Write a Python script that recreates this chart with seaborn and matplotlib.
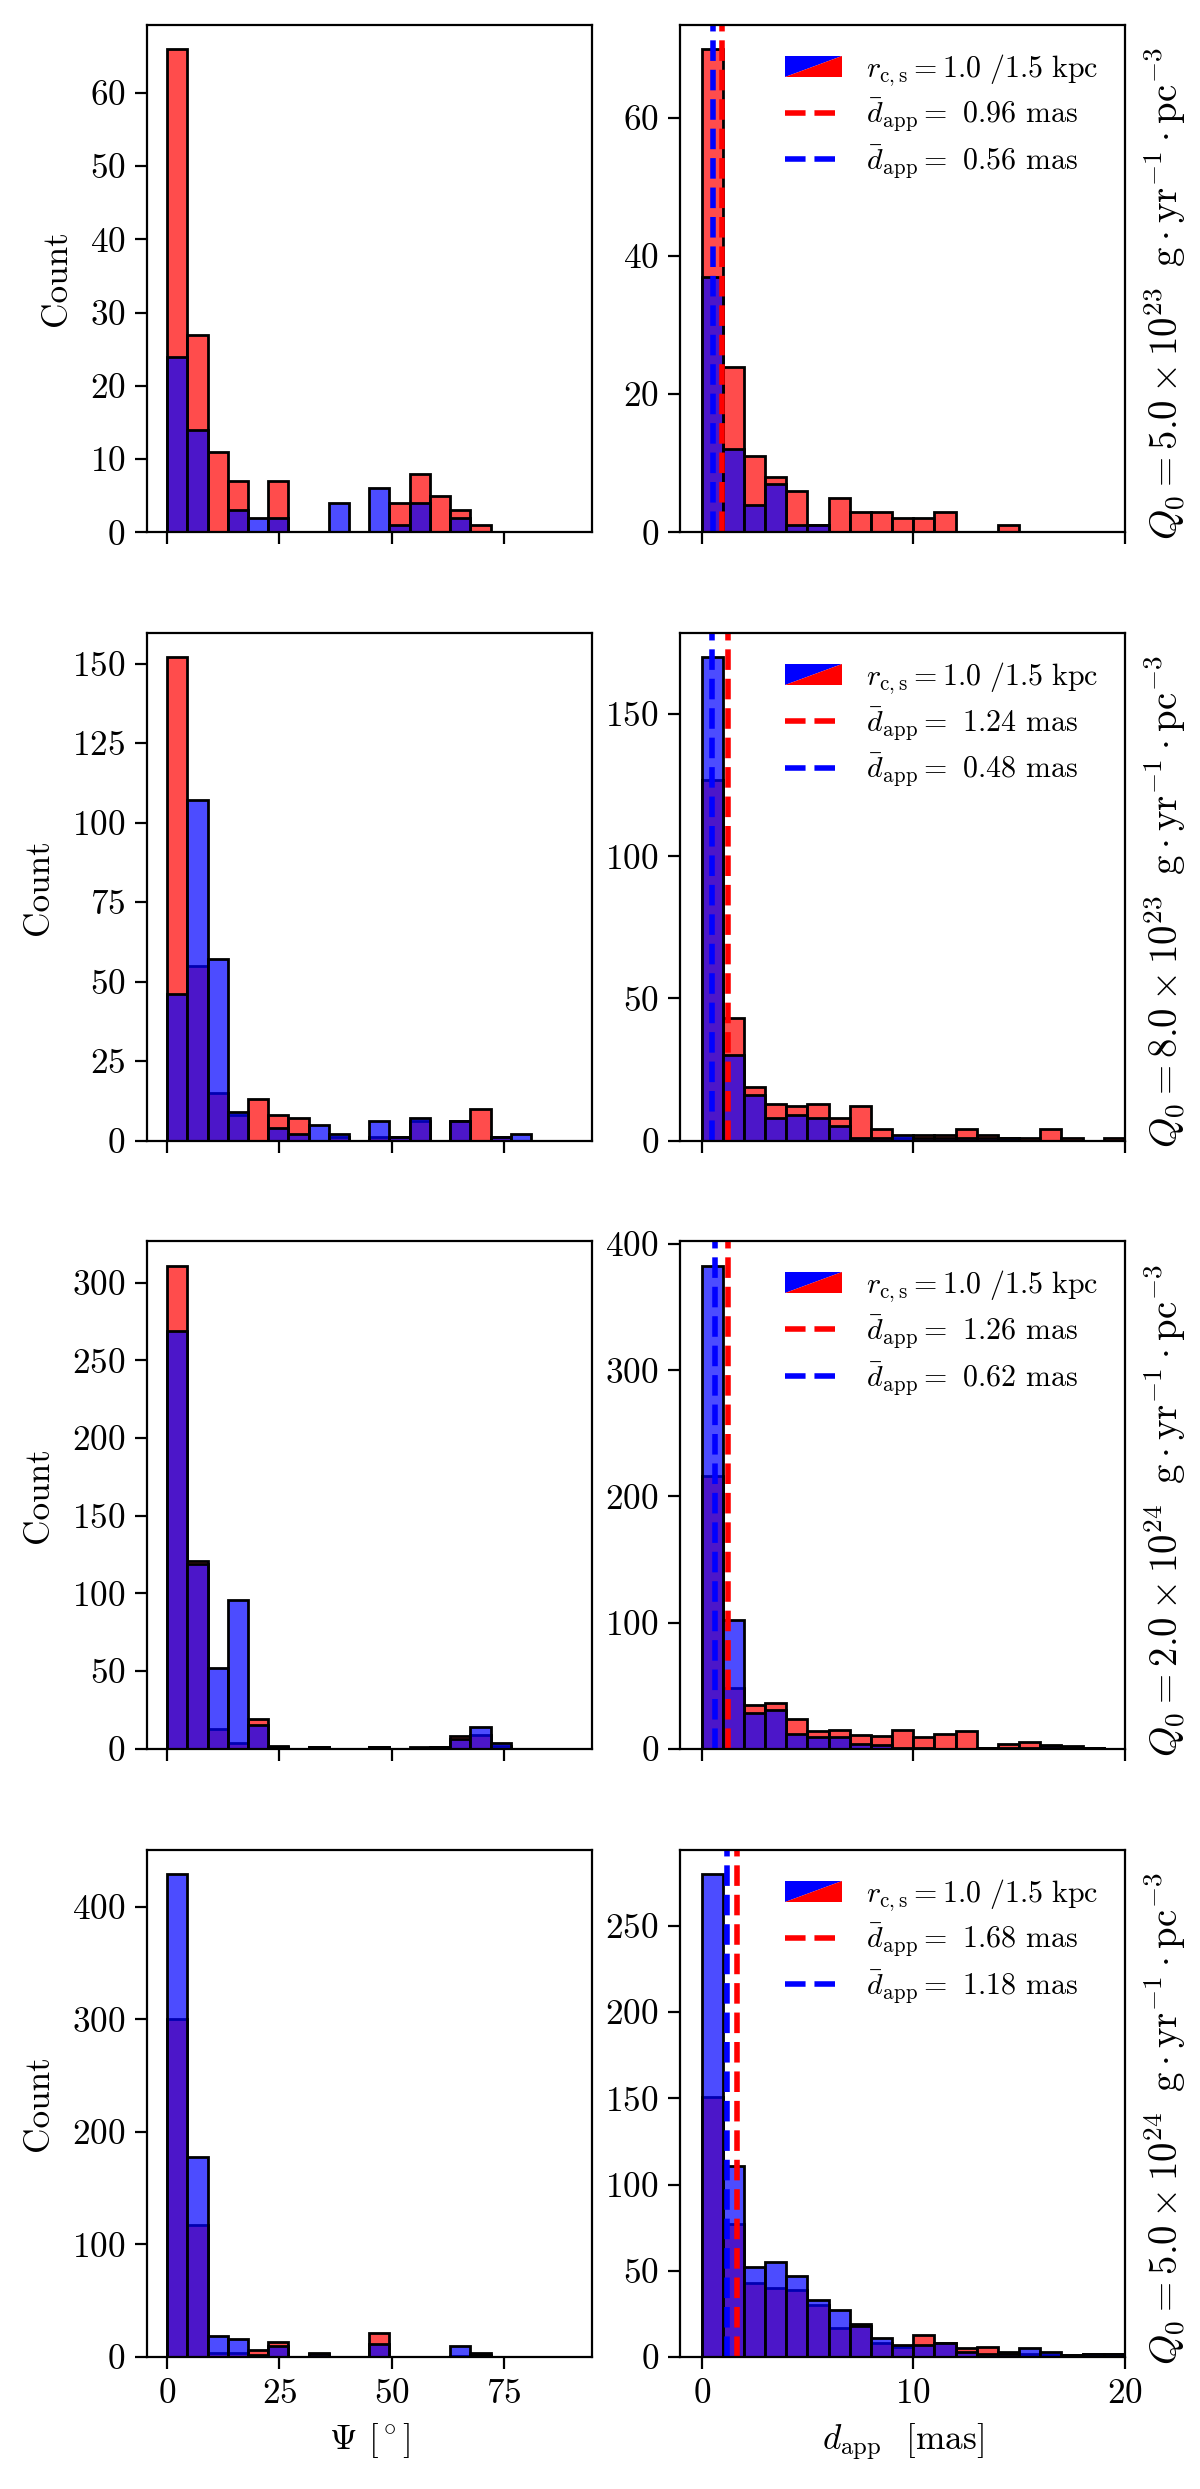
import numpy as np
import pandas as pd
import matplotlib
matplotlib.use("Agg")
import matplotlib.pyplot as plt
from matplotlib.patches import Polygon
from matplotlib.legend_handler import HandlerBase
from matplotlib.lines import Line2D
import seaborn as sns

plt.rcParams["font.family"] = "serif"
plt.rcParams["font.serif"] = ["cmr10"]
plt.rcParams["mathtext.fontset"] = "cm"
plt.rcParams["axes.formatter.use_mathtext"] = True
plt.rcParams["axes.unicode_minus"] = False

# ---------------- data ----------------
psi_edges = [4.5 * k for k in range(21)]   # 20 bins, width 4.5 deg, 0..90
dapp_edges = [1.0 * k for k in range(21)]  # 20 bins, width 1 mas, 0..20

q_labels = [
    r"$Q_0 = 5.0 \times 10^{23}\;\; \mathrm{g \cdot yr^{-1} \cdot pc^{-3}}$",
    r"$Q_0 = 8.0 \times 10^{23}\;\; \mathrm{g \cdot yr^{-1} \cdot pc^{-3}}$",
    r"$Q_0 = 2.0 \times 10^{24}\;\; \mathrm{g \cdot yr^{-1} \cdot pc^{-3}}$",
    r"$Q_0 = 5.0 \times 10^{24}\;\; \mathrm{g \cdot yr^{-1} \cdot pc^{-3}}$",
]

# Psi histograms (red: r_c,s = 1.5 kpc, blue: r_c,s = 1.0 kpc)
psi_red_1 = [66, 27, 11, 7, 0, 7, 0, 0, 0, 0, 0, 4, 8, 5, 3, 1, 0, 0, 0, 0]
psi_blue_1 = [24, 14, 0, 3, 2, 2, 0, 0, 4, 0, 6, 1, 4, 0, 2, 0, 0, 0, 0, 0]
psi_red_2 = [152, 55, 15, 8, 13, 8, 7, 0, 1, 0, 1, 1, 6, 0, 6, 10, 1, 0, 0, 0]
psi_blue_2 = [46, 107, 57, 9, 0, 4, 2, 5, 2, 0, 6, 1, 7, 0, 6, 0, 1, 2, 0, 0]
psi_red_3 = [311, 121, 13, 4, 19, 2, 0, 1, 0, 0, 1, 0, 1, 1, 8, 9, 2, 0, 0, 0]
psi_blue_3 = [269, 119, 52, 96, 15, 1, 0, 1, 0, 0, 1, 0, 0, 1, 6, 14, 4, 0, 0, 0]
psi_red_4 = [300, 117, 4, 4, 6, 13, 0, 4, 0, 0, 21, 0, 0, 0, 1, 4, 0, 0, 0, 0]
psi_blue_4 = [429, 178, 19, 16, 2, 10, 0, 3, 0, 0, 12, 0, 0, 0, 10, 2, 0, 0, 0, 0]

# d_app histograms
dapp_red_1 = [70, 24, 11, 8, 6, 1, 5, 3, 3, 2, 2, 3, 0, 0, 1, 0, 0, 0, 0, 0]
dapp_blue_1 = [37, 12, 4, 7, 1, 1, 0, 0, 0, 0, 0, 0, 0, 0, 0, 0, 0, 0, 0, 0]
dapp_red_2 = [127, 43, 19, 13, 12, 13, 8, 12, 4, 1, 2, 2, 4, 2, 1, 1, 4, 1, 0, 1]
dapp_blue_2 = [170, 30, 16, 8, 9, 8, 5, 1, 1, 2, 1, 1, 1, 1, 1, 0, 0, 0, 0, 0]
dapp_red_3 = [216, 48, 35, 36, 24, 14, 15, 11, 10, 15, 9, 12, 14, 1, 4, 5, 3, 2, 1, 0]
dapp_blue_3 = [383, 102, 28, 31, 12, 9, 9, 4, 3, 1, 1, 0, 0, 1, 1, 1, 2, 1, 1, 0]
dapp_red_4 = [151, 77, 43, 40, 39, 30, 17, 19, 8, 6, 13, 8, 5, 6, 3, 2, 1, 1, 2, 2]
dapp_blue_4 = [280, 111, 52, 55, 47, 33, 27, 18, 11, 7, 7, 8, 3, 2, 2, 5, 3, 1, 2, 2]

mean_red = [0.96, 1.24, 1.26, 1.68]
mean_blue = [0.56, 0.48, 0.62, 1.18]

psi_red = [psi_red_1, psi_red_2, psi_red_3, psi_red_4]
psi_blue = [psi_blue_1, psi_blue_2, psi_blue_3, psi_blue_4]
dapp_red = [dapp_red_1, dapp_red_2, dapp_red_3, dapp_red_4]
dapp_blue = [dapp_blue_1, dapp_blue_2, dapp_blue_3, dapp_blue_4]


class SplitHandle:
    pass


class HandlerSplit(HandlerBase):
    def create_artists(self, legend, orig_handle, xdescent, ydescent,
                       width, height, fontsize, trans):
        x0, y0 = -xdescent, -ydescent
        up = Polygon([[x0, y0], [x0, y0 + height], [x0 + width, y0 + height]],
                     closed=True, facecolor="blue", edgecolor="none", transform=trans)
        lo = Polygon([[x0, y0], [x0 + width, y0], [x0 + width, y0 + height]],
                     closed=True, facecolor="red", edgecolor="none", transform=trans)
        return [up, lo]


FS = 12.7
fig, axes = plt.subplots(4, 2, figsize=(6, 12.445), dpi=200, sharex="col")
fig.subplots_adjust(left=0.1225, right=0.9375, top=0.99, bottom=0.053,
                    wspace=0.2, hspace=0.199)

hist_kw = dict(alpha=0.7, edgecolor="black", linewidth=1.0)


def draw_hist(ax, counts, edges, color):
    centers = [0.5 * (a + b) for a, b in zip(edges[:-1], edges[1:])]
    df = pd.DataFrame({"x": centers, "w": [float(c) for c in counts]})
    sns.histplot(data=df, x="x", weights="w", bins=list(edges), color=color, ax=ax, **hist_kw)


for i in range(4):
    axl, axr = axes[i, 0], axes[i, 1]
    draw_hist(axl, psi_red[i], psi_edges, "red")
    draw_hist(axl, psi_blue[i], psi_edges, "blue")
    axl.set_ylabel("Count", fontsize=FS, labelpad=6)
    axl.set_xticks([0, 25, 50, 75])

    draw_hist(axr, dapp_red[i], dapp_edges, "red")
    draw_hist(axr, dapp_blue[i], dapp_edges, "blue")
    axr.axvline(mean_red[i], color="red", ls="--", lw=2)
    axr.axvline(mean_blue[i], color="blue", ls="--", lw=2)
    axr.set_xlim(-1, 20)
    axr.set_xticks([0, 10, 20])
    axr.yaxis.set_label_position("right")
    axr.set_ylabel(q_labels[i], fontsize=14)
    axr.yaxis.set_label_coords(1.036, 0.47)

    handles = [SplitHandle(),
               Line2D([], [], color="red", ls="--", lw=2),
               Line2D([], [], color="blue", ls="--", lw=2)]
    labels = [r"$r_{\rm c,s} = 1.0\ /1.5\ \mathrm{kpc}$",
              r"$\bar{d}_{\rm app} =$ " + f"{mean_red[i]:.2f} mas",
              r"$\bar{d}_{\rm app} =$ " + f"{mean_blue[i]:.2f} mas"]
    axr.legend(handles, labels, handler_map={SplitHandle: HandlerSplit()},
               loc="upper right", frameon=False, fontsize=10.8,
               handlelength=1.9, labelspacing=0.3)

    for ax in (axl, axr):
        ax.tick_params(labelsize=FS, length=4.3)
        ax.set_xlabel("")

axes[3, 0].set_xlabel(r"$\Psi$ [$^\circ$]", fontsize=FS)
axes[3, 1].set_xlabel(r"$d_{\rm app}$  [mas]", fontsize=FS)

fig.savefig("out.png", dpi=200)
